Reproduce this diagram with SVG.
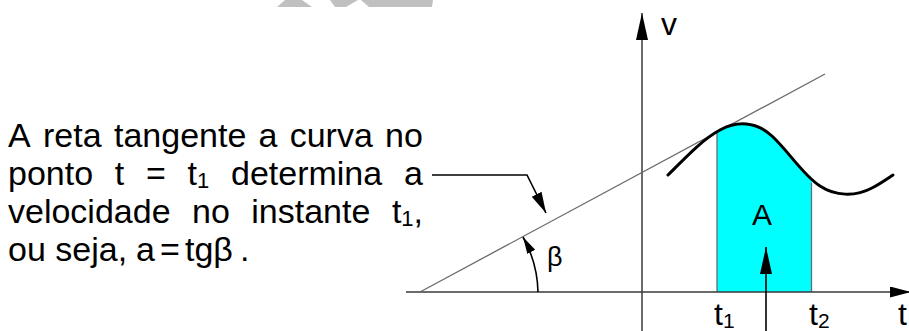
<svg xmlns="http://www.w3.org/2000/svg" width="909" height="331" viewBox="0 0 909 331">
<style>
.txt{font-family:"Liberation Sans",Arial,sans-serif;fill:#000;font-size:34px}
.sub{font-size:22px}
.lab{font-family:"Liberation Sans",Arial,sans-serif;fill:#000}
.axis{stroke:#3a3a3a;stroke-width:1.5;fill:none}
.thin{stroke:#6a6a6a;stroke-width:1.3;fill:none}
.conn{stroke:#000;stroke-width:1.6;fill:none}
</style>
<defs>
<marker id="ah" markerWidth="28" markerHeight="12" refX="27" refY="6" orient="auto" markerUnits="userSpaceOnUse"><path d="M0,0 L27,6 L0,12 Z" fill="#000"/></marker>
<marker id="ahs" markerWidth="22" markerHeight="12" refX="21" refY="5.5" orient="auto" markerUnits="userSpaceOnUse"><path d="M0,0 L21,5.5 L0,11 Z" fill="#000"/></marker>
<marker id="ahb" markerWidth="18" markerHeight="10" refX="17" refY="4.5" orient="auto" markerUnits="userSpaceOnUse"><path d="M0,0 L17,4.5 L0,9 Z" fill="#000"/></marker>
<clipPath id="band"><rect x="717" y="90" width="95" height="202"/></clipPath>
</defs>
<rect width="909" height="331" fill="#fff"/>
<g id="watermark" fill="#c0c0c0">
<polygon points="285,0 302,0 312,7 277,7"/>
<polygon points="330,0 358,0 346,7 335,7"/>
<polygon points="361,0 433,0 432,7 369,7"/>
</g>
<g id="area">
<path clip-path="url(#band)" fill="#00ffff" d="M668,175 C686,157 703,139 720,130 C737,121 756,121 772,136 C790,153 803,175 820,186 L820,292 L668,292 Z"/>
<line class="thin" x1="717" y1="131" x2="717" y2="292"/>
<line class="thin" x1="811.5" y1="183" x2="811.5" y2="292"/>
</g>
<g id="axes">
<line class="axis" x1="642" y1="331" x2="642" y2="13" marker-end="url(#ah)"/>
<line class="axis" x1="406" y1="292" x2="911" y2="292" marker-end="url(#ahs)"/>
</g>
<g id="tangent">
<line class="thin" x1="420" y1="292" x2="825" y2="74"/>
</g>
<g id="curve">
<path fill="none" stroke="#000" stroke-width="3" stroke-linecap="round" d="M668,175 C686,157 703,139 720,130 C737,121 756,121 772,136 C790,153 803,175 820,186 C835,196 855,197 872,188 C880,184 887,179 893,175"/>
</g>
<g id="connectors">
<path class="conn" d="M432,175 H527 L546,213" marker-end="url(#ahs)"/>
<path class="conn" stroke-width="1.3" d="M538,292 A118,118 0 0 0 523,237" marker-end="url(#ahb)"/>
<line class="conn" stroke-width="2" x1="766" y1="331" x2="766" y2="247" marker-end="url(#ah)"/>
</g>
<g id="labels">
<text class="lab" x="661" y="35" font-size="32">v</text>
<text class="lab" x="752" y="225" font-size="30">A</text>
<text class="lab" x="547" y="266" font-size="27">β</text>
<text class="lab" x="714" y="325" font-size="32">t<tspan font-size="21" dy="3">1</tspan></text>
<text class="lab" x="809" y="325" font-size="32">t<tspan font-size="21" dy="3">2</tspan></text>
<text class="lab" x="898" y="325" font-size="32">t</text>
</g>
<g id="description" class="txt">
<text y="147"><tspan x="8">A</tspan><tspan x="43">reta</tspan><tspan x="114">tangente</tspan><tspan x="258.5">a</tspan><tspan x="289.7">curva</tspan><tspan x="385">no</tspan></text>
<text y="185"><tspan x="8">ponto</tspan><tspan x="114.8">t</tspan><tspan x="146">=</tspan><tspan x="187.6">t</tspan><tspan class="sub" dy="3">1</tspan><tspan x="231" dy="-3">determina</tspan><tspan x="404">a</tspan></text>
<text y="223"><tspan x="8">velocidade</tspan><tspan x="192">no</tspan><tspan x="251.3">instante</tspan><tspan x="391.9">t</tspan><tspan class="sub" dy="3">1</tspan><tspan dy="-3">,</tspan></text>
<text y="261"><tspan x="8">ou seja,</tspan><tspan x="136">a</tspan><tspan x="160">=</tspan><tspan x="185">tgβ</tspan><tspan x="240">.</tspan></text>
</g>
</svg>
